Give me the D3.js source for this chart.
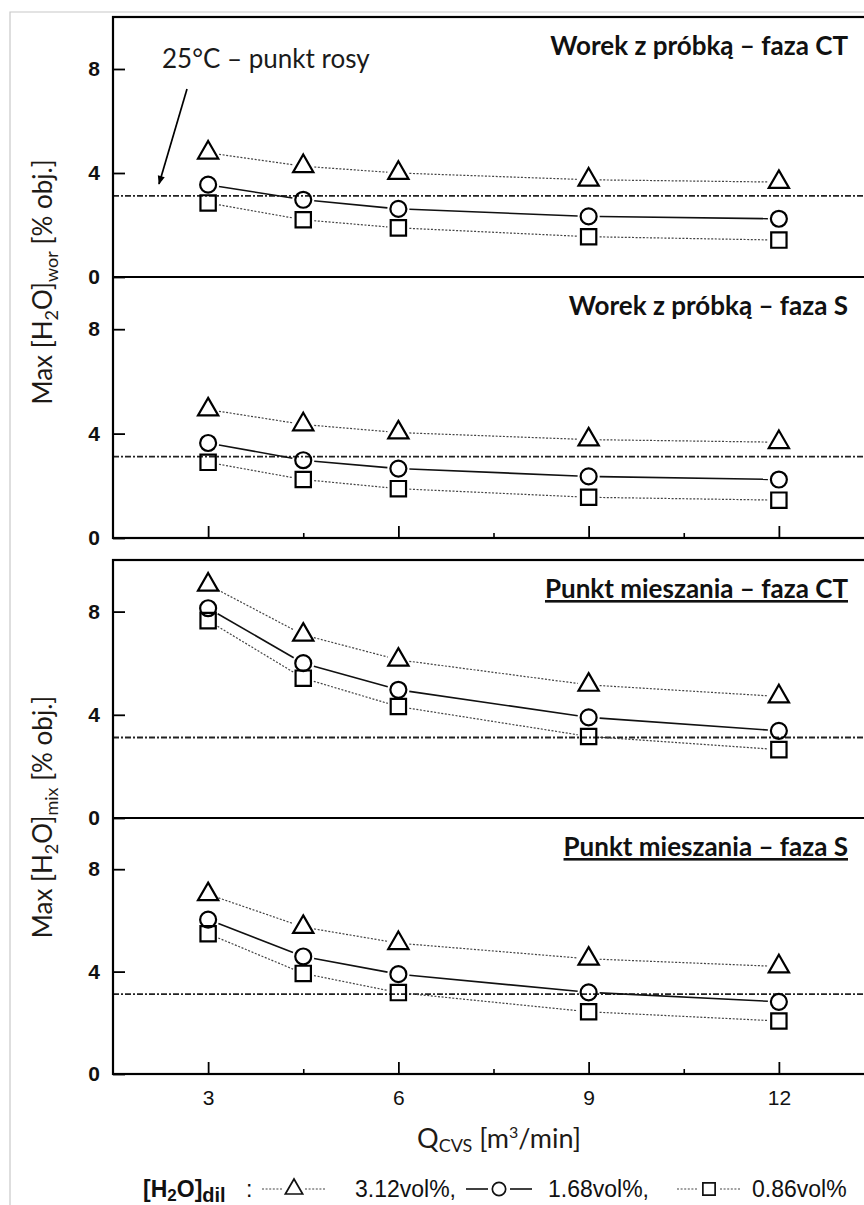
<!DOCTYPE html>
<html>
<head>
<meta charset="utf-8">
<script src="https://cdn.jsdelivr.net/npm/d3@7"></script>
<style>
  html, body { margin: 0; padding: 0; background: #fff; overflow: hidden; }
  svg { display: block; }
</style>
</head>
<body>
<svg id="chart" width="864" height="1205"></svg>
<script>
// Flow rate of the CVS system [m3/min]
const flowRates = [3, 4.5, 6, 9, 12];

// Maximum water concentration, sample bag, CT phase
const bagCT_312 = [4.78, 4.26, 4.0, 3.74, 3.65];
const bagCT_168 = [3.55, 2.97, 2.62, 2.33, 2.24];
const bagCT_086 = [2.85, 2.2, 1.89, 1.55, 1.42];

// Sample bag, S phase
const bagS_312 = [4.92, 4.35, 4.04, 3.77, 3.67];
const bagS_168 = [3.64, 2.98, 2.66, 2.36, 2.24];
const bagS_086 = [2.9, 2.24, 1.89, 1.56, 1.45];

// Mixing point, CT phase
const mixCT_312 = [9.04, 7.1, 6.13, 5.16, 4.71];
const mixCT_168 = [8.13, 6.0, 4.97, 3.9, 3.38];
const mixCT_086 = [7.65, 5.42, 4.32, 3.16, 2.65];

// Mixing point, S phase
const mixS_312 = [7.02, 5.74, 5.11, 4.5, 4.2];
const mixS_168 = [6.03, 4.59, 3.9, 3.19, 2.82];
const mixS_086 = [5.48, 3.93, 3.18, 2.43, 2.07];

const panelTitles = [
  "Worek z próbką – faza CT",
  "Worek z próbką – faza S",
  "Punkt mieszania – faza CT",
  "Punkt mieszania – faza S"
];
const seriesLabels = ["3.12vol%,", "1.68vol%,", "0.86vol%"];
const seriesSymbols = ["triangle", "circle", "square"];
const dewPointValue = 3.12;
const dewPointLabel = "25°C – punkt rosy";
const yTickValues = [0, 4, 8];
const xMajorTicks = [3, 6, 9, 12];
const xMinorTicks = [4.5, 7.5, 10.5];

const panelData = [
  [bagCT_312, bagCT_168, bagCT_086],
  [bagS_312, bagS_168, bagS_086],
  [mixCT_312, mixCT_168, mixCT_086],
  [mixS_312, mixS_168, mixS_086]
];

// ---- layout ----
const svg = d3.select("#chart");
const plotLeft = 113, plotRight = 874;
const panels = [
  { top: 17, bottom: 277 },
  { top: 277, bottom: 538 },
  { top: 560, bottom: 818 },
  { top: 818, bottom: 1074 }
];
const calibriLike = "Lato, 'Open Sans', sans-serif";
const arialLike = "'Liberation Sans', Arial, sans-serif";

const x = d3.scaleLinear().domain([1.5, 13.5]).range([plotLeft, plotRight]);

// light page border
svg.append("path")
  .attr("d", "M10,1205 V12 H864")
  .attr("fill", "none").attr("stroke", "#c8c8c8").attr("stroke-width", 1.2);

const symbolGen = {
  triangle: d3.symbol(d3.symbolTriangle, 178),
  circle: d3.symbol(d3.symbolCircle, 200),
  square: d3.symbol(d3.symbolSquare, 235)
};
const lineStyle = [
  { dash: "2,1.6", width: 1.2, color: "#444" },
  { dash: null, width: 1.6, color: "#111" },
  { dash: "2,1.6", width: 1.2, color: "#444" }
];

panels.forEach((p, i) => {
  const y = d3.scaleLinear().domain([0, 10]).range([p.bottom, p.top]);
  const g = svg.append("g");

  // y axis ticks pointing inward
  const yAxis = d3.axisLeft(y).tickValues(yTickValues).tickSizeInner(-12).tickSizeOuter(0).tickPadding(13);
  g.append("g").attr("transform", `translate(${plotLeft},0)`).call(yAxis)
    .call(a => a.select(".domain").remove())
    .call(a => a.selectAll("line").attr("stroke", "#000").attr("stroke-width", 1.8))
    .call(a => a.selectAll("text").attr("font-family", arialLike).attr("font-size", 21)
      .attr("font-weight", "bold").attr("fill", "#111"));

  // x axis ticks on the lower panel of each pair
  if (i === 1 || i === 3) {
    const xAxis = d3.axisBottom(x).tickValues(xMajorTicks).tickSizeInner(-12).tickSizeOuter(0).tickPadding(16)
      .tickFormat(i === 3 ? d3.format("d") : () => "");
    g.append("g").attr("transform", `translate(0,${p.bottom})`).call(xAxis)
      .call(a => a.select(".domain").remove())
      .call(a => a.selectAll("line").attr("stroke", "#000").attr("stroke-width", 1.8))
      .call(a => a.selectAll("text").attr("font-family", arialLike).attr("font-size", 21).attr("fill", "#111"));
    const minor = d3.axisBottom(x).tickValues(xMinorTicks).tickSizeInner(-5).tickSizeOuter(0).tickFormat(() => "");
    g.append("g").attr("transform", `translate(0,${p.bottom})`).call(minor)
      .call(a => a.select(".domain").remove())
      .call(a => a.selectAll("line").attr("stroke", "#000").attr("stroke-width", 1.6));
  }

  // dew point reference line
  g.append("line")
    .attr("x1", plotLeft).attr("x2", plotRight)
    .attr("y1", y(dewPointValue)).attr("y2", y(dewPointValue))
    .attr("stroke", "#222").attr("stroke-width", 1.8)
    .attr("stroke-dasharray", "6,2,2,2");

  // series: connecting segments stop short of markers
  panelData[i].forEach((vals, s) => {
    const pts = flowRates.map((f, k) => [x(f), y(vals[k])]);
    const gap = 11;
    const segs = d3.pairs(pts).map(([a, b]) => {
      const dx = b[0] - a[0], dy = b[1] - a[1];
      const len = Math.hypot(dx, dy);
      const ux = dx / len, uy = dy / len;
      return [a[0] + ux * gap, a[1] + uy * gap, b[0] - ux * gap, b[1] - uy * gap];
    });
    const st = lineStyle[s];
    g.selectAll(null).data(segs).enter().append("line")
      .attr("x1", d => d[0]).attr("y1", d => d[1])
      .attr("x2", d => d[2]).attr("y2", d => d[3])
      .attr("stroke", st.color).attr("stroke-width", st.width)
      .attr("stroke-dasharray", st.dash);
    g.selectAll(null).data(pts).enter().append("path")
      .attr("d", symbolGen[seriesSymbols[s]]())
      .attr("transform", d => `translate(${d[0]},${d[1]})`)
      .attr("fill", "none").attr("stroke", "#000").attr("stroke-width", 2.2);
  });

  // panel title
  g.append("text")
    .attr("x", 848).attr("y", p.top + 38)
    .attr("text-anchor", "end")
    .attr("font-family", calibriLike).attr("font-size", 26).attr("font-weight", "bold")
    .attr("fill", "#111")
    .style("text-decoration", i >= 2 ? "underline" : "none")
    .text(panelTitles[i]);
});

// frames
[[17, 538, 277], [560, 1074, 818]].forEach(([t, b, mid]) => {
  svg.append("rect").attr("x", plotLeft).attr("y", t)
    .attr("width", plotRight - plotLeft).attr("height", b - t)
    .attr("fill", "none").attr("stroke", "#000").attr("stroke-width", 2.2);
  svg.append("line").attr("x1", plotLeft).attr("x2", plotRight)
    .attr("y1", mid).attr("y2", mid).attr("stroke", "#000").attr("stroke-width", 2.2);
});

// dew point annotation with arrow
svg.append("defs").append("marker")
  .attr("id", "arrowHead").attr("viewBox", "0 0 10 10")
  .attr("refX", 9).attr("refY", 5)
  .attr("markerWidth", 10).attr("markerHeight", 9)
  .attr("markerUnits", "userSpaceOnUse")
  .attr("orient", "auto")
  .append("path").attr("d", "M0,1 L10,5 L0,9 Z").attr("fill", "#000");
svg.append("text")
  .attr("x", 162).attr("y", 68)
  .attr("font-family", calibriLike).attr("font-size", 26).attr("fill", "#1a1a1a")
  .text(dewPointLabel);
svg.append("line")
  .attr("x1", 187).attr("y1", 89).attr("x2", 159).attr("y2", 184)
  .attr("stroke", "#000").attr("stroke-width", 1.7)
  .attr("marker-end", "url(#arrowHead)");

// y axis titles
function yTitle(cy, sub) {
  const t = svg.append("text")
    .attr("transform", `translate(52,${cy}) rotate(-90)`)
    .attr("text-anchor", "middle")
    .attr("font-family", calibriLike).attr("font-size", 26).attr("fill", "#1e1a16");
  t.append("tspan").text("Max [H");
  t.append("tspan").attr("font-size", 18).attr("dy", 6).text("2");
  t.append("tspan").attr("dy", -6).text("O]");
  t.append("tspan").attr("font-size", 18).attr("dy", 6).text(sub);
  t.append("tspan").attr("dy", -6).text(" [% obj.]");
}
yTitle(282, "wor");
yTitle(817, "mix");

// x axis title
const xt = svg.append("text")
  .attr("x", 499).attr("y", 1148).attr("text-anchor", "middle")
  .attr("font-family", calibriLike).attr("font-size", 27).attr("fill", "#1e1a16");
xt.append("tspan").text("Q");
xt.append("tspan").attr("font-size", 18).attr("dy", 4).text("CVS");
xt.append("tspan").attr("dy", -4).text(" [m");
xt.append("tspan").attr("font-size", 16).attr("dy", -10).text("3");
xt.append("tspan").attr("dy", 10).text("/min]");

// legend
const legY = 1197, legMid = 1189;
const lg = svg.append("g").attr("font-family", arialLike).attr("font-size", 23).attr("fill", "#111");
const lt = lg.append("text").attr("x", 143).attr("y", legY).attr("font-weight", "bold");
lt.append("tspan").text("[H");
lt.append("tspan").attr("font-size", 17).attr("dy", 4).text("2");
lt.append("tspan").attr("dy", -4).text("O]");
lt.append("tspan").attr("font-size", 20).attr("dy", 5).text("dil");
lg.append("text").attr("x", 246).attr("y", legY).text(":");

const legendItems = [
  { x0: 262, sym: 355 },
  { x0: 466, sym: 548 },
  { x0: 677, sym: 752 }
];
const legendSymbol = {
  triangle: d3.symbol(d3.symbolTriangle, 130),
  circle: d3.symbol(d3.symbolCircle, 140),
  square: d3.symbol(d3.symbolSquare, 150)
};
legendItems.forEach((it, s) => {
  const st = lineStyle[s];
  const w = s === 1 ? 22 : 21;
  const cx = it.x0 + w + 11;
  lg.append("line").attr("x1", it.x0).attr("x2", it.x0 + w).attr("y1", legMid).attr("y2", legMid)
    .attr("stroke", st.color).attr("stroke-width", st.width).attr("stroke-dasharray", st.dash);
  lg.append("line").attr("x1", cx + 11).attr("x2", cx + 11 + w).attr("y1", legMid).attr("y2", legMid)
    .attr("stroke", st.color).attr("stroke-width", st.width).attr("stroke-dasharray", st.dash);
  lg.append("path").attr("d", legendSymbol[seriesSymbols[s]]())
    .attr("transform", `translate(${cx},${legMid})`)
    .attr("fill", "none").attr("stroke", "#111").attr("stroke-width", 1.7);
  lg.append("text").attr("x", it.sym).attr("y", legY).text(seriesLabels[s]);
});
</script>
</body>
</html>
